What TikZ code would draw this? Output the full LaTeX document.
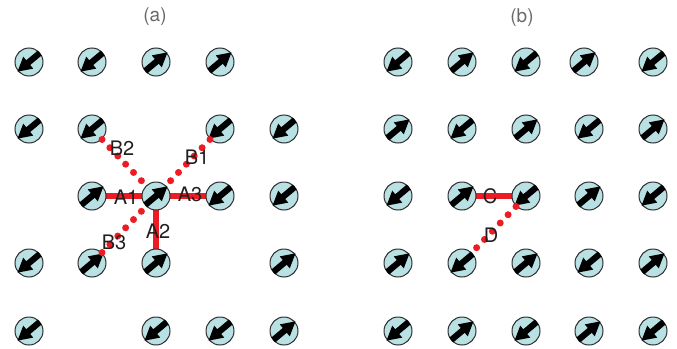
\documentclass[tikz,border=0pt]{standalone}
\usepackage{fontspec}
\setmainfont{TeX Gyre Heros}
\usetikzlibrary{decorations.markings}
\definecolor{sitefill}{RGB}{185,224,227}
\definecolor{siteline}{RGB}{45,45,45}
\definecolor{bondred}{RGB}{237,28,36}
\definecolor{labc}{RGB}{35,31,32}
\definecolor{titlec}{RGB}{105,105,105}
\begin{document}
\begin{tikzpicture}[x=1pt,y=-1pt,
  site/.style={circle,draw=siteline,line width=1pt,fill=sitefill,minimum size=28pt,inner sep=0pt},
  bond/.style={draw=bondred,line width=6.5pt},
  dotbond/.style={postaction={decorate},decoration={markings,
      mark=between positions 0 and 0.93 step 11.4pt with {\fill[bondred] (0,0) circle[radius=3.5pt];}}},
  lab/.style={text=labc,font=\fontsize{20}{22}\selectfont,inner sep=0pt},
  ttl/.style={text=titlec,font=\fontsize{19}{21}\selectfont,inner sep=0pt},
  arrNE/.pic={\fill[black,rotate=40] (-14,-3.1) -- (1,-3.1) -- (1,-7.8) -- (15,0) -- (1,7.8) -- (1,3.1) -- (-14,3.1) -- cycle;},
  arrSW/.pic={\fill[black,rotate=220] (-14,-3.1) -- (1,-3.1) -- (1,-7.8) -- (15,0) -- (1,7.8) -- (1,3.1) -- (-14,3.1) -- cycle;}
]
\useasboundingbox (0,0) rectangle (677,348);

% ---------- coordinates of bonded sites ----------
\coordinate (pa32) at (92,196);
\coordinate (pa33) at (156,196);
\coordinate (pa34) at (220,196);
\coordinate (pa43) at (156,263);
\coordinate (pb32) at (462,196);
\coordinate (pb33) at (526,196);

% ---------- solid bonds (behind sites) ----------
\draw[bond] (pa32) -- (pa33);
\draw[bond] (pa33) -- (pa34);
\draw[bond] (pa33) -- (pa43);
\draw[bond] (pb32) -- (pb33);

% ---------- left panel sites ----------
\foreach \r/\y in {1/62,2/129,3/196,4/263,5/331}{
  \foreach \c/\x in {1/29,2/92,3/156,4/220,5/284}{
    \coordinate (ga\r\c) at (\x,\y);
  }
}
% row 1
\node[site] (a11) at (ga11) {}; \pic at (a11) {arrSW};
\node[site] (a12) at (ga12) {}; \pic at (a12) {arrSW};
\node[site] (a13) at (ga13) {}; \pic at (a13) {arrNE};
\node[site] (a14) at (ga14) {}; \pic at (a14) {arrNE};
% row 2
\node[site] (a21) at (ga21) {}; \pic at (a21) {arrSW};
\node[site] (a22) at (ga22) {}; \pic at (a22) {arrSW};
\node[site] (a24) at (ga24) {}; \pic at (a24) {arrSW};
\node[site] (a25) at (ga25) {}; \pic at (a25) {arrSW};
% row 3
\node[site] (a32) at (ga32) {}; \pic at (a32) {arrNE};
\node[site] (a33) at (ga33) {}; \pic at (a33) {arrNE};
\node[site] (a34) at (ga34) {}; \pic at (a34) {arrSW};
\node[site] (a35) at (ga35) {}; \pic at (a35) {arrSW};
% row 4
\node[site] (a41) at (ga41) {}; \pic at (a41) {arrSW};
\node[site] (a42) at (ga42) {}; \pic at (a42) {arrNE};
\node[site] (a43) at (ga43) {}; \pic at (a43) {arrNE};
\node[site] (a45) at (ga45) {}; \pic at (a45) {arrNE};
% row 5
\node[site] (a51) at (ga51) {}; \pic at (a51) {arrSW};
\node[site] (a53) at (ga53) {}; \pic at (a53) {arrSW};
\node[site] (a54) at (ga54) {}; \pic at (a54) {arrSW};
\node[site] (a55) at (ga55) {}; \pic at (a55) {arrNE};

% ---------- right panel sites (checkerboard) ----------
\foreach \r/\y in {1/62,2/129,3/196,4/263,5/331}{
  \foreach \c/\x in {1/398,2/462,3/526,4/589,5/653}{
    \pgfmathtruncatemacro{\parity}{mod(\r+\c,2)}
    \edef\xx{\x}
    \ifnum\r=1 \ifnum\c=4 \def\xx{584}\fi\fi
    \node[site] (b\r\c) at (\xx,\y) {};
    \ifnum\parity=0 \pic at (b\r\c) {arrSW}; \else \pic at (b\r\c) {arrNE}; \fi
  }
}

% ---------- dotted bonds ----------
\path[dotbond] (a22) -- (a33);
\path[dotbond] (a24) -- (a33);
\path[dotbond] (a42) -- (a33);
\path[dotbond] (b33) -- (b42);

% ---------- labels ----------
\node[lab] (lA1) at (126,197) {A1};
\node[lab] (lA3) at (190,194) {A3};
\node[lab] (lA2) at (158,231) {A2};
\node[lab] (lB1) at (197,157) {B1};
\node[lab] (lB2) at (122,148) {B2};
\node[lab] (lB3) at (114,242) {B3};
\node[lab] (lC) at (490,196) {C};
\node[lab] (lD) at (491,235) {D};

\node[ttl] (ta) at (155,17) {(a)};
\node[ttl] (tb) at (522,18) {(b)};
\end{tikzpicture}
\end{document}
